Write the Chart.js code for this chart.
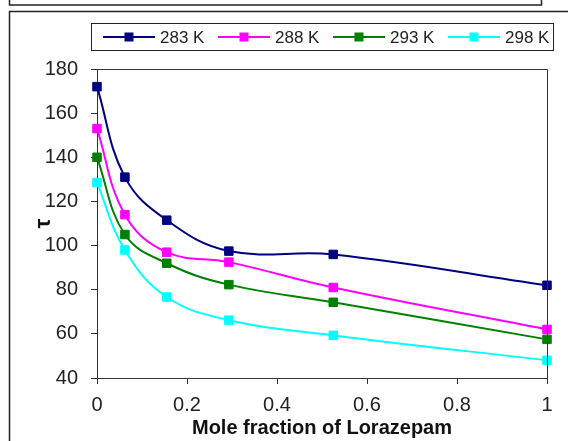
<!DOCTYPE html>
<html>
<head>
<meta charset="utf-8">
<script src="https://cdn.jsdelivr.net/npm/chart.js@4/dist/chart.umd.min.js"></script>
<style>
html,body{margin:0;padding:0;background:#fff;}
canvas{display:block;}
</style>
</head>
<body>
<canvas id="c" width="568" height="441"></canvas>
<script>
// Data
const moleFraction = [0, 0.062, 0.155, 0.293, 0.525, 1];
const tau283 = [172, 131, 111.5, 97.5, 96, 82];
const tau288 = [153, 114, 97, 92.5, 81, 62];
const tau293 = [140, 105, 92, 82.3, 74.3, 57.5];
const tau298 = [128.5, 98, 76.7, 66.2, 59.3, 48];
const seriesLabels = ['283 K', '288 K', '293 K', '298 K'];
const seriesColors = ['#000080', '#FF00FF', '#008000', '#00FFFF'];
const xTickLabels = ['0', '0.2', '0.4', '0.6', '0.8', '1'];
const yTickValues = [40, 60, 80, 100, 120, 140, 160, 180];
const xTitle = 'Mole fraction of Lorazepam';
const yTitle = 'τ';

const FONT = "'Liberation Sans', Arial, sans-serif";
const allSeries = [tau283, tau288, tau293, tau298];

const datasets = allSeries.map((vals, i) => ({
  label: seriesLabels[i],
  data: moleFraction.map((x, j) => ({x: x, y: vals[j]})),
  borderColor: seriesColors[i],
  backgroundColor: seriesColors[i],
  borderWidth: 2,
  pointStyle: 'rect',
  pointRadius: 6,
  pointBorderWidth: 1,
  pointBackgroundColor: seriesColors[i],
  pointBorderColor: seriesColors[i],
  tension: 0.4,
  clip: false
}));

const framePlugin = {
  id: 'frames',
  beforeDraw(chart) {
    const ctx = chart.ctx;
    ctx.save();
    ctx.fillStyle = '#fff';
    ctx.fillRect(0, 0, chart.width, chart.height);
    ctx.strokeStyle = '#222';
    ctx.lineWidth = 1.5;
    ctx.strokeRect(9.5, -10, 532, 15);
    ctx.strokeRect(9.5, 11.5, 700, 600);
    ctx.restore();
  },
  afterDraw(chart) {
    const ctx = chart.ctx;
    const a = chart.chartArea;
    ctx.save();
    // top and right border of plot area
    ctx.strokeStyle = '#333';
    ctx.lineWidth = 1;
    ctx.beginPath();
    ctx.moveTo(a.left, a.top + 0.5);
    ctx.lineTo(a.right + 0.5, a.top + 0.5);
    ctx.lineTo(a.right + 0.5, a.bottom);
    ctx.stroke();
    // legend
    const lx = 91.5, ly = 23.5, lw = 462, lh = 27;
    ctx.strokeStyle = '#222';
    ctx.lineWidth = 1;
    ctx.strokeRect(lx, ly, lw, lh);
    const cy = ly + lh / 2;
    ctx.font = '17px ' + FONT;
    ctx.textBaseline = 'middle';
    ctx.textAlign = 'left';
    chart.data.datasets.forEach((ds, i) => {
      const x0 = 103 + i * 115;
      ctx.strokeStyle = ds.borderColor;
      ctx.lineWidth = 2;
      ctx.beginPath();
      ctx.moveTo(x0, cy);
      ctx.lineTo(x0 + 52, cy);
      ctx.stroke();
      ctx.fillStyle = ds.borderColor;
      ctx.fillRect(x0 + 26 - 4.5, cy - 4.5, 9, 9);
      ctx.fillStyle = '#222';
      ctx.fillText(ds.label, x0 + 57, cy + 1);
    });
    ctx.restore();
  }
};

new Chart(document.getElementById('c'), {
  type: 'line',
  data: { datasets: datasets },
  options: {
    responsive: false,
    animation: false,
    devicePixelRatio: 1,
    layout: { padding: { top: 69, right: 21, left: 0, bottom: 0 } },
    plugins: { legend: { display: false }, tooltip: { enabled: false } },
    scales: {
      x: {
        type: 'linear',
        min: 0, max: 1,
        afterFit(s) { s.height = 63; },
        afterBuildTicks(s) { s.ticks = xTickLabels.map(t => ({value: parseFloat(t)})); },
        ticks: {
          callback: (v) => xTickLabels.find(t => parseFloat(t) === v) ?? '',
          font: { family: FONT, size: 20 },
          color: '#222',
          padding: 9,
          maxRotation: 0
        },
        grid: { drawOnChartArea: false, drawTicks: true, tickLength: 6, color: '#333' },
        border: { color: '#333', width: 1 },
        title: {
          display: true, text: xTitle,
          font: { family: FONT, size: 20, weight: 'bold' },
          color: '#111',
          padding: { top: 0, bottom: 1 }
        }
      },
      y: {
        type: 'linear',
        min: 40, max: 180,
        afterFit(s) { s.width = 97; },
        afterBuildTicks(s) { s.ticks = yTickValues.map(v => ({value: v})); },
        ticks: {
          font: { family: FONT, size: 20 },
          color: '#222',
          padding: 13
        },
        grid: { drawOnChartArea: false, drawTicks: true, tickLength: 6, color: '#333' },
        border: { color: '#333', width: 1 },
        title: {
          display: true, text: yTitle,
          font: { family: FONT, size: 22, weight: 'bold' },
          color: '#111',
          padding: { top: 31, bottom: 0 }
        }
      }
    }
  },
  plugins: [framePlugin]
});
</script>
</body>
</html>
